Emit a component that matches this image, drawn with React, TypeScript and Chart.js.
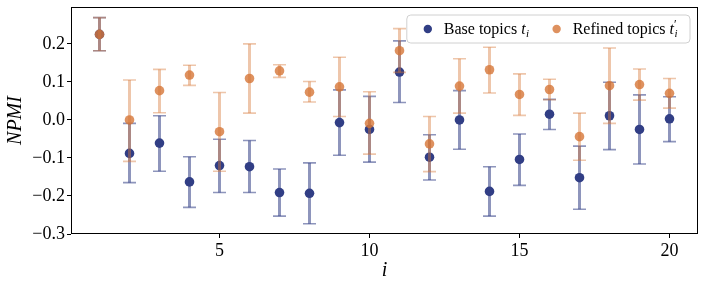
import React, { useEffect, useRef } from "react";
import { Chart, registerables } from "chart.js";

Chart.register(...registerables);

const indices = [1, 2, 3, 4, 5, 6, 7, 8, 9, 10, 11, 12, 13, 14, 15, 16, 17, 18, 19, 20];
const baseValues = [0.225, -0.088, -0.061, -0.163, -0.12, -0.123, -0.191, -0.193, -0.007, -0.025, 0.126, -0.098, 0.0, -0.188, -0.104, 0.015, -0.152, 0.011, -0.025, 0.003];
const baseLower = [0.182, -0.165, -0.135, -0.23, -0.191, -0.191, -0.253, -0.273, -0.093, -0.111, 0.046, -0.158, -0.077, -0.253, -0.172, -0.025, -0.235, -0.078, -0.116, -0.057];
const baseUpper = [0.269, -0.009, 0.011, -0.097, -0.051, -0.054, -0.129, -0.113, 0.079, 0.062, 0.208, -0.039, 0.077, -0.123, -0.037, 0.054, -0.069, 0.099, 0.066, 0.061];
const refinedValues = [0.225, 0.0, 0.077, 0.118, -0.031, 0.109, 0.129, 0.073, 0.087, -0.009, 0.182, -0.063, 0.089, 0.132, 0.067, 0.08, -0.044, 0.09, 0.093, 0.07];
const refinedLower = [0.182, -0.109, 0.019, 0.091, -0.135, 0.018, 0.112, 0.047, 0.009, -0.09, 0.125, -0.136, 0.018, 0.071, 0.012, 0.053, -0.106, -0.009, 0.052, 0.031];
const refinedUpper = [0.269, 0.105, 0.133, 0.144, 0.072, 0.2, 0.145, 0.101, 0.165, 0.074, 0.24, 0.009, 0.161, 0.191, 0.121, 0.107, 0.018, 0.189, 0.134, 0.109];

const xTicks = [5, 10, 15, 20];
const yTicks = [-0.3, -0.2, -0.1, 0.0, 0.1, 0.2];

const seriesLabels = ["Base topics", "Refined topics"];

const BLUE = "rgba(49,62,133,1)";
const BLUE_ERR = "rgba(49,62,133,0.55)";
const ORANGE = "rgba(214,118,55,0.8)";
const ORANGE_ERR = "rgba(214,118,55,0.42)";
const FONT = "'Liberation Serif', 'Times New Roman', serif";

const errorBarPlugin = {
  id: "errorBars",
  beforeDatasetDraw(chart: any, args: any) {
    const idx = args.index;
    const lows = idx === 0 ? baseLower : refinedLower;
    const highs = idx === 0 ? baseUpper : refinedUpper;
    const color = idx === 0 ? BLUE_ERR : ORANGE_ERR;
    const xs = chart.scales.x;
    const ys = chart.scales.y;
    const ctx = chart.ctx;
    ctx.save();
    ctx.strokeStyle = color;
    indices.forEach((xv, i) => {
      const px = xs.getPixelForValue(xv);
      const pl = ys.getPixelForValue(lows[i]);
      const ph = ys.getPixelForValue(highs[i]);
      ctx.lineWidth = 3;
      ctx.beginPath();
      ctx.moveTo(px, pl);
      ctx.lineTo(px, ph);
      ctx.stroke();
      ctx.lineWidth = 1.6;
      ctx.beginPath();
      ctx.moveTo(px - 6.5, pl);
      ctx.lineTo(px + 6.5, pl);
      ctx.moveTo(px - 6.5, ph);
      ctx.lineTo(px + 6.5, ph);
      ctx.stroke();
    });
    ctx.restore();
  },
};

const framePlugin = {
  id: "frame",
  afterDatasetsDraw(chart: any) {
    const { left, right, top, bottom } = chart.chartArea;
    const ctx = chart.ctx;
    ctx.save();
    ctx.strokeStyle = "#000";
    ctx.lineWidth = 1;
    ctx.strokeRect(Math.round(left) + 0.5, Math.round(top) + 0.5, Math.round(right - left) - 1, Math.round(bottom - top) - 1);
    ctx.restore();
  },
};

const legendPlugin = {
  id: "mathLegend",
  afterDraw(chart: any) {
    const ctx = chart.ctx;
    const { right, top } = chart.chartArea;
    const mainFont = `16px ${FONT}`;
    const italicFont = `italic 16px ${FONT}`;
    const subFont = `italic 11px ${FONT}`;
    const primeFont = `12px ${FONT}`;
    ctx.save();
    ctx.font = mainFont;
    const w1 = ctx.measureText(seriesLabels[0] + " ").width;
    const w2 = ctx.measureText(seriesLabels[1] + " ").width;
    ctx.font = italicFont;
    const wt = ctx.measureText("t").width;
    ctx.font = subFont;
    const wi = ctx.measureText("i").width;
    const entry1 = 37 + w1 + wt + wi + 1;
    const entry2Start = entry1 + 27;
    const entry2 = entry2Start + 17 + w2 + wt + wi + 2;
    const boxW = entry2 + 10;
    const boxH = 28;
    const boxRight = right - 8;
    const boxLeft = boxRight - boxW;
    const boxTop = top + 8;
    ctx.beginPath();
    const r = 4;
    ctx.moveTo(boxLeft + r, boxTop);
    ctx.arcTo(boxLeft + boxW, boxTop, boxLeft + boxW, boxTop + boxH, r);
    ctx.arcTo(boxLeft + boxW, boxTop + boxH, boxLeft, boxTop + boxH, r);
    ctx.arcTo(boxLeft, boxTop + boxH, boxLeft, boxTop, r);
    ctx.arcTo(boxLeft, boxTop, boxLeft + boxW, boxTop, r);
    ctx.closePath();
    ctx.fillStyle = "rgba(255,255,255,0.8)";
    ctx.fill();
    ctx.strokeStyle = "#d0d0d0";
    ctx.lineWidth = 1;
    ctx.stroke();

    const cy = boxTop + boxH / 2;
    const drawEntry = (x0: number, color: string, label: string, prime: boolean) => {
      ctx.fillStyle = color;
      ctx.beginPath();
      ctx.arc(x0, cy, 4.2, 0, Math.PI * 2);
      ctx.fill();
      let x = x0 + 16;
      ctx.fillStyle = "#000";
      ctx.textBaseline = "alphabetic";
      ctx.textAlign = "left";
      const base = cy + 5;
      ctx.font = mainFont;
      ctx.fillText(label + " ", x, base);
      x += ctx.measureText(label + " ").width;
      ctx.font = italicFont;
      ctx.fillText("t", x, base);
      x += ctx.measureText("t").width;
      ctx.font = subFont;
      ctx.fillText("i", x + 0.5, base + 3);
      if (prime) {
        ctx.font = primeFont;
        ctx.fillText("\u2032", x, base - 6);
      }
    };
    drawEntry(boxLeft + 21, BLUE, seriesLabels[0], false);
    drawEntry(boxLeft + entry2Start, ORANGE, seriesLabels[1], true);
    ctx.restore();
  },
};

const fmtY = (v: number) => {
  const s = Math.abs(v).toFixed(1);
  return v < -1e-9 ? "\u2212" + s : s;
};

export default function App() {
  const ref = useRef<HTMLCanvasElement | null>(null);
  useEffect(() => {
    if (!ref.current) return;
    const chart = new Chart(ref.current, {
      type: "scatter",
      data: {
        datasets: [
          {
            label: seriesLabels[0],
            data: indices.map((x, i) => ({ x, y: baseValues[i] })),
            backgroundColor: BLUE,
            borderWidth: 0,
            pointRadius: 4.8,
            order: 1,
          },
          {
            label: seriesLabels[1],
            data: indices.map((x, i) => ({ x, y: refinedValues[i] })),
            backgroundColor: ORANGE,
            borderWidth: 0,
            pointRadius: 4.8,
            order: 0,
          },
        ],
      },
      options: {
        responsive: false,
        animation: false,
        devicePixelRatio: 1,
        layout: { padding: { top: 7, right: 8, left: 0, bottom: 0 } },
        plugins: {
          legend: { display: false },
          tooltip: { enabled: false },
        },
        scales: {
          x: {
            type: "linear",
            min: 0.05,
            max: 20.95,
            afterBuildTicks: (scale: any) => {
              scale.ticks = xTicks.map((v) => ({ value: v }));
            },
            afterFit: (scale: any) => {
              scale.height = 53;
              scale.paddingLeft = 0;
              scale.paddingRight = 0;
            },
            ticks: {
              color: "#000",
              font: { family: FONT, size: 18 },
              padding: 2,
              maxRotation: 0,
              callback: (v: any) => String(v),
            },
            grid: { drawOnChartArea: false, drawTicks: true, tickLength: 4, color: "#000", lineWidth: 1 },
            border: { display: false },
            title: {
              display: true,
              text: "i",
              color: "#000",
              font: { family: FONT, size: 20, style: "italic" },
              padding: { top: 0, bottom: 4 },
            },
          },
          y: {
            type: "linear",
            min: -0.3,
            max: 0.297,
            afterBuildTicks: (scale: any) => {
              scale.ticks = yTicks.map((v) => ({ value: v }));
            },
            afterFit: (scale: any) => {
              scale.width = 71;
              scale.paddingTop = 0;
              scale.paddingBottom = 0;
            },
            ticks: {
              color: "#000",
              font: { family: FONT, size: 18 },
              padding: 2,
              callback: (v: any) => fmtY(Number(v)),
            },
            grid: { drawOnChartArea: false, drawTicks: true, tickLength: 4, color: "#000", lineWidth: 1 },
            border: { display: false },
            title: {
              display: true,
              text: "NPMI",
              color: "#000",
              font: { family: FONT, size: 20, style: "italic" },
              padding: { top: 4, bottom: 0 },
            },
          },
        },
      },
      plugins: [errorBarPlugin, framePlugin, legendPlugin],
    } as any);
    return () => chart.destroy();
  }, []);
  return (
    <div style={{ position: "absolute", left: 0, top: 0, width: 706, height: 287 }}>
      <canvas ref={ref} width={706} height={287} />
    </div>
  );
}
